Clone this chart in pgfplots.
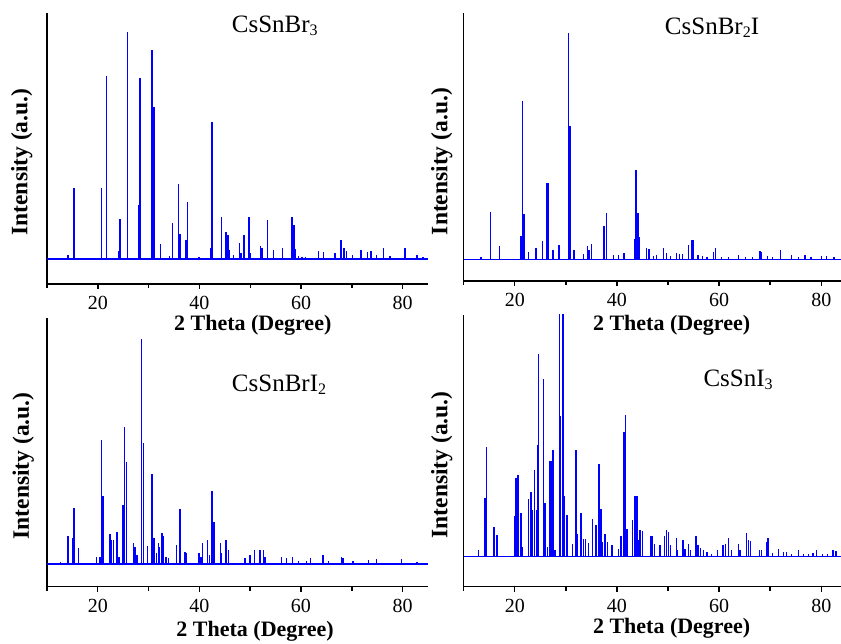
\documentclass[border=0pt]{standalone}
\usepackage{pgfplots}
\pgfplotsset{compat=1.18}
\usepackage{pgfplotstable}
\usepackage{fontspec}
\setmainfont{Liberation Serif}

\pgfplotstableread{
x y
14.1 4
15.3 71
20.7 71
21.7 183
24.1 8
24.4 40
25.9 227
28.0 54
28.3 181
30.7 209
31.1 152
32.3 15
34.1 3
34.7 36
35.9 75
36.2 25
37.4 19
37.6 57
39.9 2
42.2 11
42.5 137
44.3 42
45.2 27
45.6 24
45.9 9
46.7 4
47.9 16
48.2 6
48.8 24
49.8 42
50.1 6
52.0 13
52.3 11
53.4 39
54.6 9
56.4 11
58.2 42
58.6 34
58.9 10
59.5 3
60.2 2
60.9 2
63.4 8
64.4 7
66.7 6
67.9 19
68.5 11
69.0 8
70.1 4
71.8 9
73.1 7
73.8 8
74.9 4
76.2 11
77.5 3
80.5 11
82.8 4
84.0 2
}\dataA

\pgfplotstableread{
x y
13.4 2
15.2 47
17.0 13
21.2 23
21.5 158
21.8 45
22.7 7
24.0 11
24.3 11
25.4 18
26.3 76
26.6 76
27.5 9
28.5 14
28.7 14
30.5 226
30.8 133
31.6 9
33.4 5
34.2 13
34.5 9
35.0 15
37.5 33
37.9 46
39.3 4
40.3 4
41.4 6
43.5 20
43.7 89
44.1 46
44.3 22
45.8 11
46.3 10
47.2 3
47.8 4
49.1 11
49.7 6
50.5 3
51.7 6
52.2 5
52.8 5
54.0 14
54.6 19
54.9 19
55.9 4
56.8 3
57.6 2
58.9 7
59.3 11
60.5 2
61.8 2
63.8 4
65.2 2
66.5 2
68.0 8
68.3 7
69.5 3
70.5 2
72.0 9
74.2 4
75.5 2
76.8 4
78.0 2
80.1 3
81.0 3
82.5 2
}\dataB

\pgfplotstableread{
x y
12.6 2
14.1 28
15.0 26
15.3 56
16.2 16
19.8 7
20.4 7
20.7 124
21.0 68
22.4 30
22.7 24
23.1 24
23.7 32
23.9 32
24.2 7
25.0 59
25.3 137
25.6 102
27.0 21
27.3 17
27.7 9
28.6 225
29.0 121
29.8 18
30.7 90
31.1 26
31.6 11
31.9 21
32.2 17
32.6 31
32.9 28
33.4 7
33.9 6
35.5 19
36.2 55
37.2 12
37.5 11
39.9 11
40.3 7
40.6 21
41.6 24
42.0 9
42.5 73
42.9 42
44.1 21
44.4 11
45.2 24
45.7 14
49.0 6
50.0 9
50.9 14
51.9 14
52.6 14
52.9 7
56.2 7
57.2 6
58.3 7
59.5 3
61.1 3
61.9 6
64.3 9
65.4 3
68.0 7
68.3 6
70.2 3
73.3 4
74.9 5
79.8 5
82.8 2
}\dataC

\pgfplotstableread{
x y
12.9 7
14.2 59
14.5 110
15.9 30
16.5 22
19.9 41
20.2 79
20.6 82
21.2 44
21.5 10
22.7 58
23.2 65
23.5 47
23.9 87
24.2 47
24.4 112
24.7 203
25.6 178
25.9 54
26.4 10
26.8 96
27.1 96
27.5 107
27.9 7
28.7 280
29.0 141
29.4 280
29.6 61
30.2 42
31.3 13
32.0 107
32.3 23
33.0 44
33.4 18
33.9 18
34.4 14
35.2 38
35.9 32
36.5 93
36.9 48
37.2 15
37.7 23
38.1 15
39.0 12
40.3 8
40.8 21
41.4 125
41.7 142
42.0 28
43.1 37
43.5 61
43.9 61
44.2 17
44.5 27
45.0 26
46.7 21
47.0 21
47.3 13
48.4 12
49.3 21
49.7 27
50.1 25
50.5 12
51.6 19
51.9 7
52.9 17
53.3 8
54.0 13
54.4 7
55.5 21
55.9 12
56.4 9
56.9 7
57.6 5
58.5 3
59.7 7
60.8 12
61.2 13
61.8 19
62.4 7
63.8 13
64.1 7
65.4 24
65.7 17
66.2 16
67.9 7
68.3 7
69.3 15
69.6 19
70.5 4
71.6 8
72.6 5
73.2 5
74.2 3
75.5 7
76.5 3
77.5 3
78.4 4
79.1 7
80.2 3
81.2 3
82.3 7
82.9 6
}\dataD

\newcommand{\sub}[1]{\raisebox{-0.25ex}{\fontsize{16}{18}\selectfont #1}}

\pgfplotsset{
  xrd/.style={
    scale only axis,
    axis x line=bottom, axis y line=left,
    axis line style={-, line width=1.4pt, black},
    xmin=10,
    ytick=\empty,
    xtick={20,40,60,80},
    minor xtick={10,30,50,70},
    tick align=outside,
    major tick length=5pt, minor tick length=4pt,
    tick style={black, line width=1.4pt},
    /pgf/number format/assume math mode=true,
    ticklabel style={font=\fontsize{20}{24}\selectfont},
    xticklabel style={yshift=-4pt},
    xlabel={2 Theta (Degree)},
    ylabel={Intensity (a.u.)},
    xlabel style={font=\fontsize{22}{26}\selectfont\bfseries},
    ylabel style={font=\fontsize{23.5}{28}\selectfont\bfseries},
    clip=true,
  },
  spec/.style={blue, ycomb, mark=none, line width=1.4pt},
  base/.style={blue, mark=none, line width=1.3pt},
}

\begin{document}
\begin{tikzpicture}
\path[use as bounding box] (0,0) rectangle (841pt,643pt);

% Panel 1
\begin{axis}[xrd, at={(47pt,359pt)}, anchor=south west,
  width=381pt, height=271pt, xmax=85, ymin=-25, ymax=246,
  xlabel style={at={(axis description cs:0.54,0)}, anchor=center, yshift=-41pt},
  ylabel style={at={(axis description cs:-0.066,0.45)}, anchor=center}]
\addplot[base] coordinates {(10,0) (85,0)};
\addplot[spec] table {\dataA};
\node[font=\fontsize{25}{30}\selectfont] at (rel axis cs:0.598,0.952) {CsSnBr\sub{3}};
\end{axis}

% Panel 2
\begin{axis}[xrd, at={(463.7pt,362pt)}, anchor=south west,
  width=378pt, height=267.7pt, xmax=84, ymin=-21.7, ymax=246,
  xlabel style={at={(axis description cs:0.55,0)}, anchor=center, yshift=-44pt},
  ylabel style={at={(axis description cs:-0.058,0.446)}, anchor=center}]
\addplot[base] coordinates {(10,0) (84,0)};
\addplot[spec] table {\dataB};
\node[font=\fontsize{25}{30}\selectfont] at (rel axis cs:0.657,0.945) {CsSnBr\sub{2}I};
\end{axis}

% Panel 3
\begin{axis}[xrd, at={(47pt,56.3pt)}, anchor=south west,
  width=381pt, height=268.4pt, xmax=85, ymin=-22.7, ymax=245.7,
  xlabel style={at={(axis description cs:0.546,0)}, anchor=center, yshift=-45pt},
  ylabel style={at={(axis description cs:-0.062,0.45)}, anchor=center}]
\addplot[base] coordinates {(10,0) (85,0)};
\addplot[spec] table {\dataC};
\node[font=\fontsize{25}{30}\selectfont] at (rel axis cs:0.609,0.751) {CsSnBrI\sub{2}};
\end{axis}

% Panel 4
\begin{axis}[xrd, at={(463.7pt,56.3pt)}, anchor=south west,
  width=378pt, height=271.7pt, xmax=84, ymin=-30, ymax=241.7,
  xlabel style={at={(axis description cs:0.55,0)}, anchor=center, yshift=-41.6pt},
  ylabel style={at={(axis description cs:-0.058,0.448)}, anchor=center}]
\addplot[base] coordinates {(10,0) (84,0)};
\addplot[spec] table {\dataD};
\node[font=\fontsize{25}{30}\selectfont] at (rel axis cs:0.726,0.761) {CsSnI\sub{3}};
\end{axis}
\end{tikzpicture}
\end{document}
